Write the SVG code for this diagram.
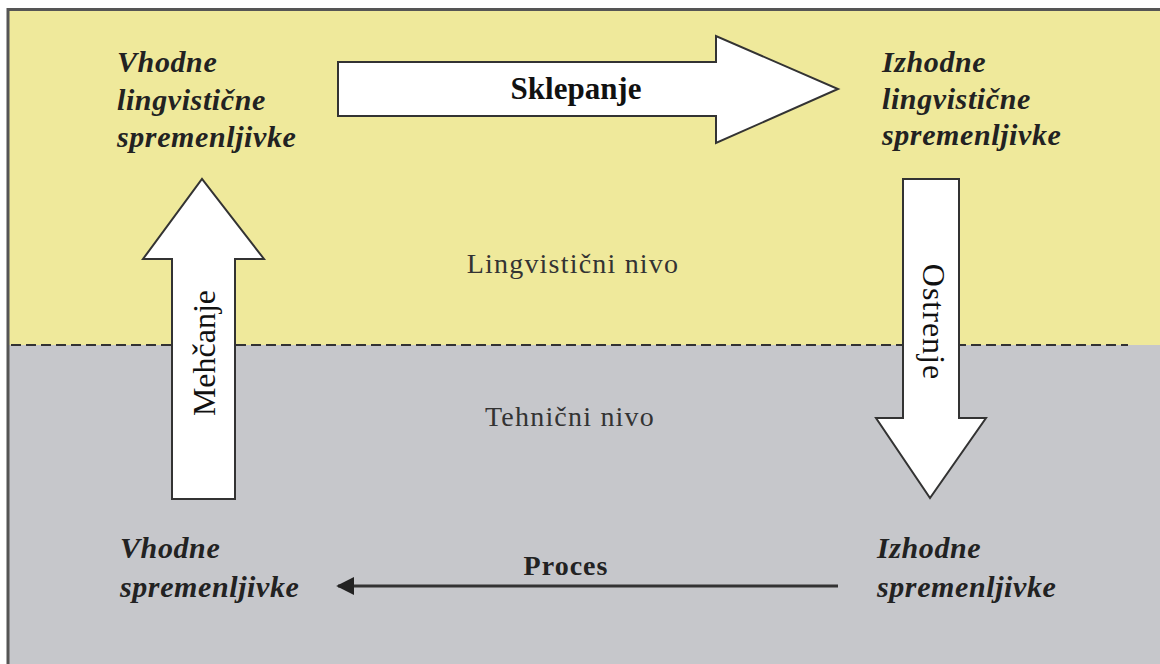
<svg xmlns="http://www.w3.org/2000/svg" width="1160" height="664" viewBox="0 0 1160 664">
  <defs>
    <style>
      .var { font-family: "Liberation Serif", "DejaVu Serif", serif; font-style: italic; font-weight: bold; font-size: 30px; fill: #222; letter-spacing: 0.6px; }
      .lvl { font-family: "Liberation Serif", "DejaVu Serif", serif; font-size: 28px; fill: #333; letter-spacing: 1.2px; text-anchor: middle; }
      .big { fill: #fff; stroke: #333; stroke-width: 2; stroke-linejoin: miter; }
      .albl { font-family: "Liberation Serif", "DejaVu Serif", serif; font-size: 32px; fill: #111; text-anchor: middle; }
    </style>
    <marker id="ah" viewBox="0 0 10 10" refX="9" refY="5" markerWidth="6" markerHeight="6" orient="auto-start-reverse" markerUnits="strokeWidth">
      <path d="M0,0 L10,5 L0,10 Z" fill="#222"/>
    </marker>
  </defs>

  <g id="background">
    <rect x="0" y="0" width="1160" height="664" fill="#fff"/>
    <rect x="9" y="9" width="1151" height="336" fill="#EFE99B"/>
    <rect x="9" y="345" width="1151" height="319" fill="#C6C7CB"/>
    <path d="M8,664 V9.5 H1160" fill="none" stroke="#555" stroke-width="3"/>
    <line x1="11" y1="345" x2="1128" y2="345" stroke="#333" stroke-width="2" stroke-dasharray="10,5"/>
    <text class="lvl" x="573" y="273">Lingvistični nivo</text>
    <text class="lvl" x="570" y="426">Tehnični nivo</text>
  </g>

  <g id="connectors">
    <g id="sklepanje">
      <path class="big" d="M338,62 H716 V36 L838,89 L716,143 V116 H338 Z"/>
      <text x="576" y="99" font-family="Liberation Serif, serif" font-weight="bold" font-size="31" fill="#111" text-anchor="middle">Sklepanje</text>
    </g>
    <g id="ostrenje">
      <path class="big" d="M903,179 H959 V418 H986 L930,498 L876,418 H903 Z"/>
      <text class="albl" transform="translate(923,322) rotate(90)" letter-spacing="1">Ostrenje</text>
    </g>
    <g id="mehcanje">
      <path class="big" d="M172,499 V259 H143 L202,179 L264,259 H235 V499 Z"/>
      <text class="albl" transform="translate(215,353) rotate(-90)">Mehčanje</text>
    </g>
    <g id="proces">
      <line x1="838" y1="586" x2="338" y2="586" stroke="#333" stroke-width="3" marker-end="url(#ah)"/>
      <text x="566" y="575" font-family="Liberation Serif, serif" font-weight="bold" font-size="28" fill="#222" text-anchor="middle" letter-spacing="1">Proces</text>
    </g>
  </g>

  <g id="node-vhodne-ling">
    <text class="var" x="117" y="72">Vhodne</text>
    <text class="var" x="117" y="110">lingvistične</text>
    <text class="var" x="117" y="147">spremenljivke</text>
  </g>
  <g id="node-izhodne-ling">
    <text class="var" x="882" y="72">Izhodne</text>
    <text class="var" x="882" y="109">lingvistične</text>
    <text class="var" x="882" y="145">spremenljivke</text>
  </g>
  <g id="node-vhodne">
    <text class="var" x="120" y="558">Vhodne</text>
    <text class="var" x="120" y="597">spremenljivke</text>
  </g>
  <g id="node-izhodne">
    <text class="var" x="877" y="558">Izhodne</text>
    <text class="var" x="877" y="597">spremenljivke</text>
  </g>
</svg>
